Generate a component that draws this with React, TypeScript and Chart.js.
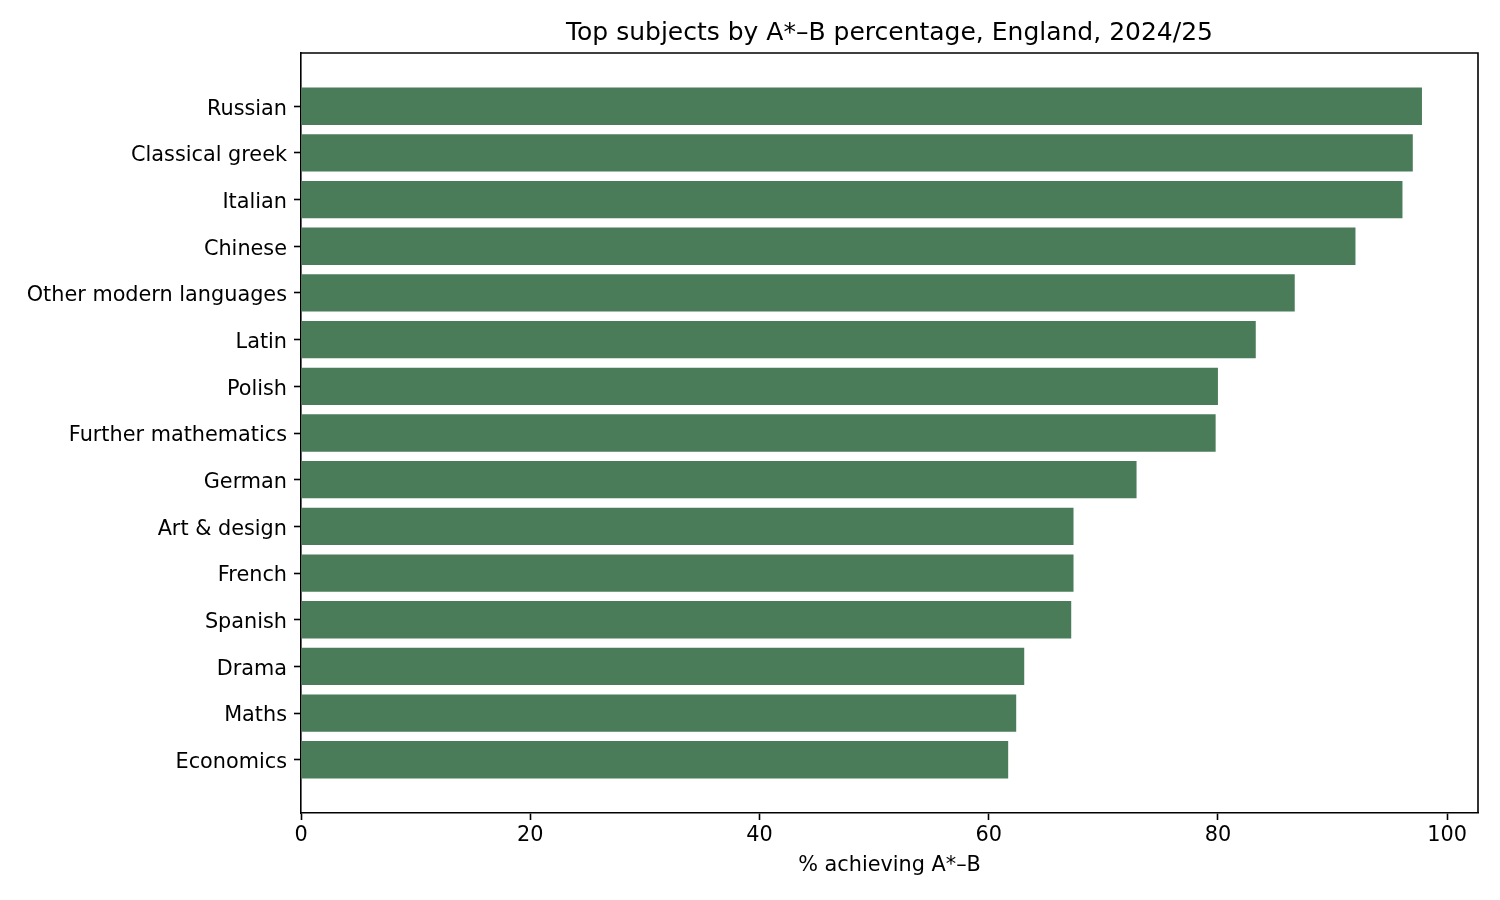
import { useEffect, useRef } from 'react'
import { Chart, registerables } from 'chart.js'

Chart.register(...registerables)

const subjects = [
  'Russian',
  'Classical greek',
  'Italian',
  'Chinese',
  'Other modern languages',
  'Latin',
  'Polish',
  'Further mathematics',
  'German',
  'Art & design',
  'French',
  'Spanish',
  'Drama',
  'Maths',
  'Economics',
]
const pctAstarB = [97.8, 97.0, 96.1, 92.0, 86.7, 83.3, 80.0, 79.8, 72.9, 67.4, 67.4, 67.2, 63.1, 62.4, 61.7]
const xTicks = [0, 20, 40, 60, 80, 100]

const TITLE = 'Top subjects by A*–B percentage, England, 2024/25'
const FONT = "'DejaVu Sans', sans-serif"
const BAR = '#4a7c59'

// top + right spines and a title centred on the axes, like matplotlib
const framePlugin = {
  id: 'frame',
  afterDraw(chart: Chart) {
    const { ctx, chartArea: { left, top, right, bottom } } = chart
    ctx.save()
    ctx.strokeStyle = '#000'
    ctx.lineWidth = 1.6
    ctx.beginPath()
    ctx.moveTo(left, top)
    ctx.lineTo(right, top)
    ctx.lineTo(right, bottom)
    ctx.stroke()
    ctx.fillStyle = '#000'
    ctx.font = `25px ${FONT}`
    ctx.textAlign = 'center'
    ctx.textBaseline = 'middle'
    ctx.fillText(TITLE, (left + right) / 2, 33)
    ctx.restore()
  },
}

export default function App() {
  const canvasRef = useRef<HTMLCanvasElement>(null)
  const chartRef = useRef<Chart | null>(null)

  useEffect(() => {
    document.body.style.margin = '0'
    if (!canvasRef.current) return
    chartRef.current?.destroy()

    const xMax = Math.max(...pctAstarB) * 1.05
    const yPad = 0.4 + 0.05 * (subjects.length - 1 + 0.8)

    chartRef.current = new Chart(canvasRef.current, {
      type: 'bar',
      data: {
        datasets: [
          {
            label: '% achieving A*–B',
            data: pctAstarB.map((v, i) => ({ x: v, y: i })),
            backgroundColor: BAR,
            barPercentage: 0.8,
            categoryPercentage: 1,
          },
        ],
      },
      plugins: [framePlugin],
      options: {
        indexAxis: 'y',
        animation: false,
        responsive: false,
        devicePixelRatio: 1,
        layout: { padding: { left: 0, right: 22, top: 53, bottom: 0 } },
        plugins: {
          legend: { display: false },
          tooltip: { enabled: false },
          title: { display: false },
        },
        scales: {
          x: {
            type: 'linear',
            min: 0,
            max: xMax,
            z: 1,
            afterBuildTicks: axis => { axis.ticks = xTicks.map(v => ({ value: v })) },
            afterFit: scale => { scale.height = 87 },
            ticks: { color: '#000', font: { family: FONT, size: 20.8 }, padding: 3, maxRotation: 0 },
            grid: { drawOnChartArea: false, drawTicks: true, tickLength: 7, tickWidth: 1.6, tickColor: '#000' },
            border: { display: true, color: '#000', width: 1.6 },
            title: {
              display: true,
              text: '% achieving A*–B',
              color: '#000',
              font: { family: FONT, size: 20.8 },
              padding: { top: 0, bottom: 22 },
            },
          },
          y: {
            type: 'linear',
            reverse: true,
            offset: false,
            min: -yPad,
            max: subjects.length - 1 + yPad,
            z: 1,
            afterBuildTicks: axis => { axis.ticks = subjects.map((_, i) => ({ value: i })) },
            afterFit: scale => { scale.width = 301 },
            ticks: {
              color: '#000',
              font: { family: FONT, size: 20.8 },
              padding: 7,
              labelOffset: 3,
              autoSkip: false,
              callback: v => subjects[Number(v)] ?? '',
            },
            grid: { offset: false, drawOnChartArea: false, drawTicks: true, tickLength: 7, tickWidth: 1.6, tickColor: '#000' },
            border: { display: true, color: '#000', width: 1.6 },
          },
        },
      },
    })

    return () => chartRef.current?.destroy()
  }, [])

  return (
    <div style={{ position: 'absolute', left: 0, top: 0, width: 1500, height: 900, background: '#fff' }}>
      <canvas ref={canvasRef} width={1500} height={900} />
    </div>
  )
}
